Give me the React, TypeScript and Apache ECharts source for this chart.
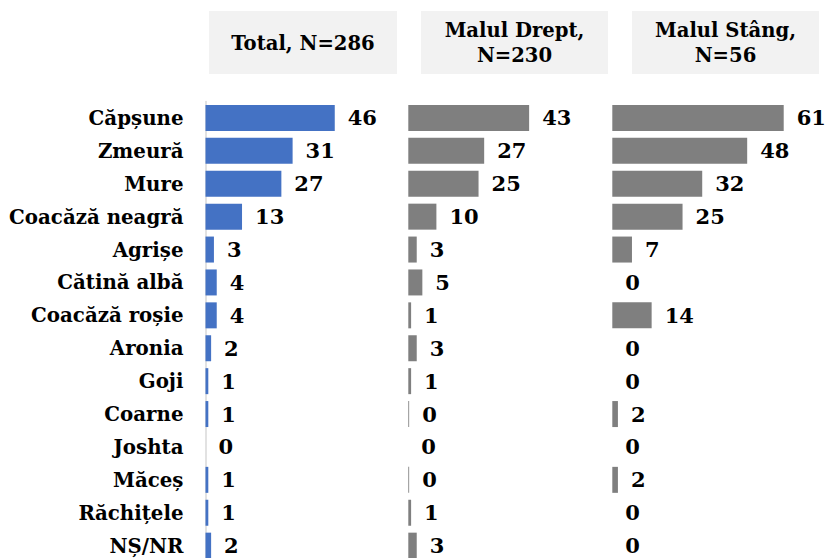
import React, { useEffect, useRef } from "react";
import * as echarts from "echarts";

const categories = [
  "Căpșune",
  "Zmeură",
  "Mure",
  "Coacăză neagră",
  "Agrișe",
  "Cătină albă",
  "Coacăză roșie",
  "Aronia",
  "Goji",
  "Coarne",
  "Joshta",
  "Măceș",
  "Răchițele",
  "NȘ/NR",
];

const totalValues = [46, 31, 27, 13, 3, 4, 4, 2, 1, 1, 0, 1, 1, 2];
const dreptValues = [43, 27, 25, 10, 3, 5, 1, 3, 1, 0.3, 0, 0.3, 1, 3];
const stangValues = [61, 48, 32, 25, 7, 0, 14, 0, 0, 2, 0, 2, 0, 0];

const panelTitles = ["Total, N=286", "Malul Drept,\nN=230", "Malul Stâng,\nN=56"];

const FONT = "DejaVu Serif";

export default function App() {
  const ref = useRef<HTMLDivElement>(null);

  useEffect(() => {
    document.body.style.margin = "0";
    if (!ref.current) return;
    const chart = echarts.init(ref.current, null, { renderer: "svg" });

    const lefts = [205.5, 408.3, 612.3];
    const boxes = [
      { x: 209, w: 188 },
      { x: 421, w: 187 },
      { x: 632, w: 187 },
    ];
    const top = 101.5;
    const height = 460.6;
    const maxV = 70;
    const width = maxV * 2.81;

    const seriesData = [totalValues, dreptValues, stangValues];
    const colors = ["#4472C4", "#7F7F7F", "#7F7F7F"];

    const option: any = {
      animation: false,
      grid: lefts.map((l) => ({
        left: l,
        top,
        width,
        height,
        containLabel: false,
        outerBoundsMode: "none",
      })),
      xAxis: lefts.map((_, i) => ({
        type: "value",
        gridIndex: i,
        min: 0,
        max: maxV,
        show: false,
      })),
      yAxis: lefts.map((_, i) => ({
        type: "category",
        gridIndex: i,
        data: categories,
        inverse: true,
        axisLine: {
          show: i === 0,
          lineStyle: { color: "#D9D9D9", width: 1.5 },
        },
        axisTick: { show: false },
        axisLabel: {
          show: i === 0,
          margin: 22,
          fontFamily: FONT,
          fontWeight: "bold",
          fontSize: 19.8,
          color: "#000",
        },
        splitLine: { show: false },
      })),
      series: seriesData.map((d, i) => ({
        type: "bar",
        xAxisIndex: i,
        yAxisIndex: i,
        data: d,
        barCategoryGap: "21%",
        itemStyle: { color: colors[i] },
        label: {
          show: true,
          position: "right",
          distance: 13,
          fontFamily: FONT,
          fontWeight: "bold",
          fontSize: 21,
          color: "#000",
          formatter: (p: any) => String(Math.round(p.value)),
        },
      })),
      graphic: boxes.flatMap((b, i) => [
        {
          type: "rect",
          shape: { x: b.x, y: 11, width: b.w, height: 63 },
          style: { fill: "#F2F2F2" },
          silent: true,
        },
        {
          type: "text",
          x: b.x + b.w / 2,
          y: 43,
          style: {
            text: panelTitles[i],
            fill: "#000",
            fontFamily: FONT,
            fontWeight: "bold",
            fontSize: 19.6,
            lineHeight: 25,
            align: "center",
            verticalAlign: "middle",
          },
          silent: true,
        },
      ]),
    };

    chart.setOption(option);
    return () => chart.dispose();
  }, []);

  return <div ref={ref} style={{ width: 826, height: 558 }} />;
}
